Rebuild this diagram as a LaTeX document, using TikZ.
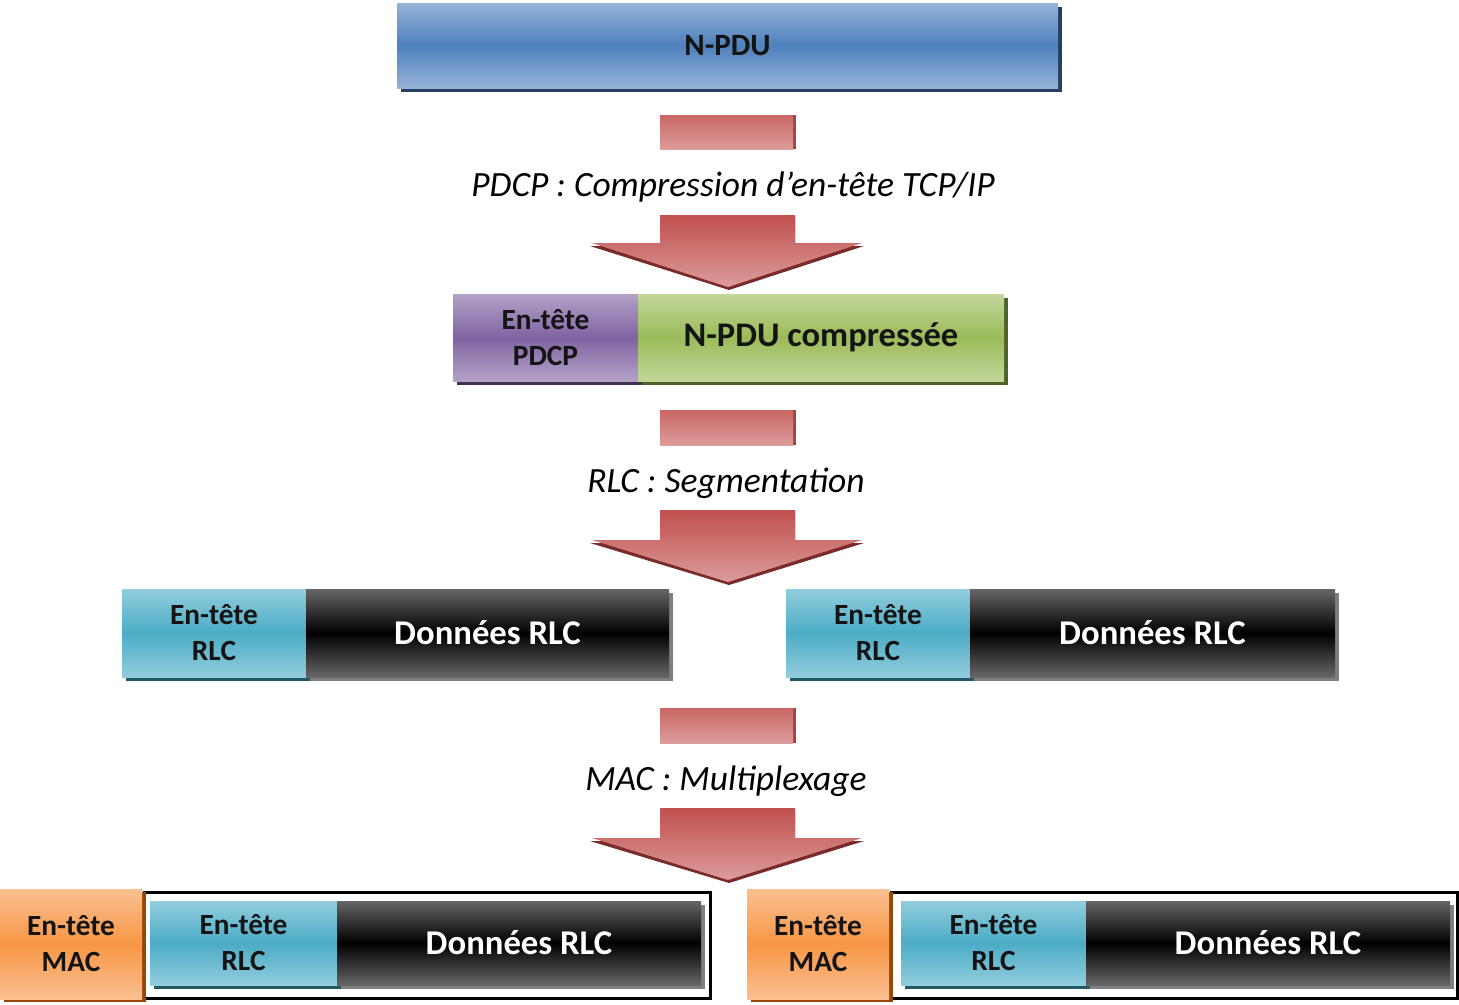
\documentclass[tikz,border=0pt]{standalone}
\usepackage{fontspec}
\setmainfont{Carlito}
\usetikzlibrary{shadows}
\definecolor{bluelt}{HTML}{95B3D7}
\definecolor{bluedk}{HTML}{4F81BD}
\definecolor{blueshd}{HTML}{243F60}
\definecolor{purlt}{HTML}{B3A2C7}
\definecolor{purdk}{HTML}{8064A2}
\definecolor{purshd}{HTML}{3F3151}
\definecolor{grnlt}{HTML}{C3D69B}
\definecolor{grndk}{HTML}{9BBB59}
\definecolor{grnshd}{HTML}{4F6228}
\definecolor{cyanlt}{HTML}{92CDDC}
\definecolor{cyandk}{HTML}{4BACC6}
\definecolor{cyanshd}{HTML}{215967}
\definecolor{blklt}{HTML}{666666}
\definecolor{blkdk}{HTML}{000000}
\definecolor{blkshd}{HTML}{7F7F7F}
\definecolor{orglt}{HTML}{FAC090}
\definecolor{orgdk}{HTML}{F79646}
\definecolor{orgshd}{HTML}{974806}
\definecolor{redlt}{HTML}{DC9C9B}
\definecolor{reddk}{HTML}{C0504D}
\definecolor{redshd}{HTML}{7A2A28}
\definecolor{txtdk}{HTML}{141414}
\tikzset{
  box/.style={rectangle, inner sep=0pt, outer sep=0pt, anchor=north west, align=center, text=txtdk},
  gbox/.style 2 args={box, top color=#1, bottom color=#1, middle color=#2},
  shd/.style={general shadow={fill=#1, shadow xshift=4pt, shadow yshift=-4pt}},
  hdrtxt/.style={font=\fontsize{29.3}{36}\selectfont\bfseries},
  datatxt/.style={font=\fontsize{34.7}{40}\selectfont\bfseries, text=white},
  lbl/.style={font=\fontsize{35.5}{40}\selectfont\itshape, text=black, inner sep=0pt},
  smallrect/.style={rectangle, inner sep=0pt, outer sep=0pt, anchor=north west, top color=reddk!70!redlt, bottom color=redlt, general shadow={fill=reddk!85!black, shadow xshift=3pt, shadow yshift=0pt}},
  frame/.style={draw=black, line width=3pt},
}
\begin{document}
\begin{tikzpicture}[x=1pt,y=-1pt]
\useasboundingbox (0,0) rectangle (1459,1004);
\fill[white] (0,0) rectangle (1459,1004);

% N-PDU
\node[gbox={bluelt}{bluedk}, shd=blueshd, minimum width=661pt, minimum height=85pt,
  font=\fontsize{31}{36}\selectfont\bfseries] (npdu) at (397,3) {N-PDU};

% step 1
\node[smallrect, minimum width=133pt, minimum height=34pt] (s1) at (660,115) {};
\node[lbl] (t1) at (733,187) {PDCP : Compression d’en-tête TCP/IP};
\fill[redshd] (660,218) -- (795,218) -- (795,246) -- (864,246) -- (729,290) -- (590,246) -- (660,246) -- cycle;
\shade[top color=reddk, bottom color=redlt] (660,215) -- (795,215) -- (795,243) -- (862,243) -- (728,287) -- (592,243) -- (660,243) -- cycle;

% PDCP row
\node[gbox={purlt}{purdk}, shd=purshd, minimum width=185pt, minimum height=87pt, hdrtxt] (ph) at (453,294) {En-tête\\PDCP};
\node[gbox={grnlt}{grndk}, shd=grnshd, minimum width=366pt, minimum height=87pt,
  font=\fontsize{34.5}{40}\selectfont\bfseries] (pd) at (638,294) {N-PDU compressée};

% step 2
\node[smallrect, minimum width=133pt, minimum height=35pt] (s2) at (660,410) {};
\node[lbl] (t2) at (726,483) {RLC : Segmentation};
\fill[redshd] (660,513) -- (795,513) -- (795,543) -- (864,543) -- (729,585) -- (590,543) -- (660,543) -- cycle;
\shade[top color=reddk, bottom color=redlt] (660,510) -- (795,510) -- (795,540) -- (862,540) -- (728,582) -- (592,540) -- (660,540) -- cycle;

% RLC row
\node[gbox={cyanlt}{cyandk}, shd=cyanshd, minimum width=184pt, minimum height=88pt, hdrtxt] (rh1) at (122,589) {En-tête\\RLC};
\node[gbox={blklt}{blkdk}, shd=blkshd, minimum width=363pt, minimum height=88pt, datatxt] (rd1) at (306,589) {Données RLC};
\node[gbox={cyanlt}{cyandk}, shd=cyanshd, minimum width=184pt, minimum height=88pt, hdrtxt] (rh2) at (786,589) {En-tête\\RLC};
\node[gbox={blklt}{blkdk}, shd=blkshd, minimum width=365pt, minimum height=88pt, datatxt] (rd2) at (970,589) {Données RLC};

% step 3
\node[smallrect, minimum width=133pt, minimum height=35pt] (s3) at (660,708) {};
\node[lbl] (t3) at (726,781) {MAC : Multiplexage};
\fill[redshd] (660,811) -- (795,811) -- (795,841) -- (864,841) -- (729,883) -- (590,841) -- (660,841) -- cycle;
\shade[top color=reddk, bottom color=redlt] (660,808) -- (795,808) -- (795,838) -- (862,838) -- (728,880) -- (592,838) -- (660,838) -- cycle;

% MAC rows
\draw[frame] (144.5,892.5) rectangle (710.5,998.5);
\draw[frame] (891.5,892.5) rectangle (1457.5,998.5);
\node[gbox={orglt}{orgdk}, general shadow={fill=orgshd, shadow xshift=4pt, shadow yshift=-3pt}, minimum width=142pt, minimum height=110pt, hdrtxt] (mh1) at (0,889) {En-tête\\MAC};
\node[gbox={cyanlt}{cyandk}, shd=cyanshd, minimum width=187pt, minimum height=84pt, hdrtxt] (bh1) at (150,901) {En-tête\\RLC};
\node[gbox={blklt}{blkdk}, shd=blkshd, minimum width=364pt, minimum height=84pt, datatxt] (bd1) at (337,901) {Données RLC};
\node[gbox={orglt}{orgdk}, general shadow={fill=orgshd, shadow xshift=4pt, shadow yshift=-3pt}, minimum width=142pt, minimum height=110pt, hdrtxt] (mh2) at (747,889) {En-tête\\MAC};
\node[gbox={cyanlt}{cyandk}, shd=cyanshd, minimum width=185pt, minimum height=84pt, hdrtxt] (bh2) at (901,901) {En-tête\\RLC};
\node[gbox={blklt}{blkdk}, shd=blkshd, minimum width=364pt, minimum height=84pt, datatxt] (bd2) at (1086,901) {Données RLC};
\end{tikzpicture}
\end{document}
